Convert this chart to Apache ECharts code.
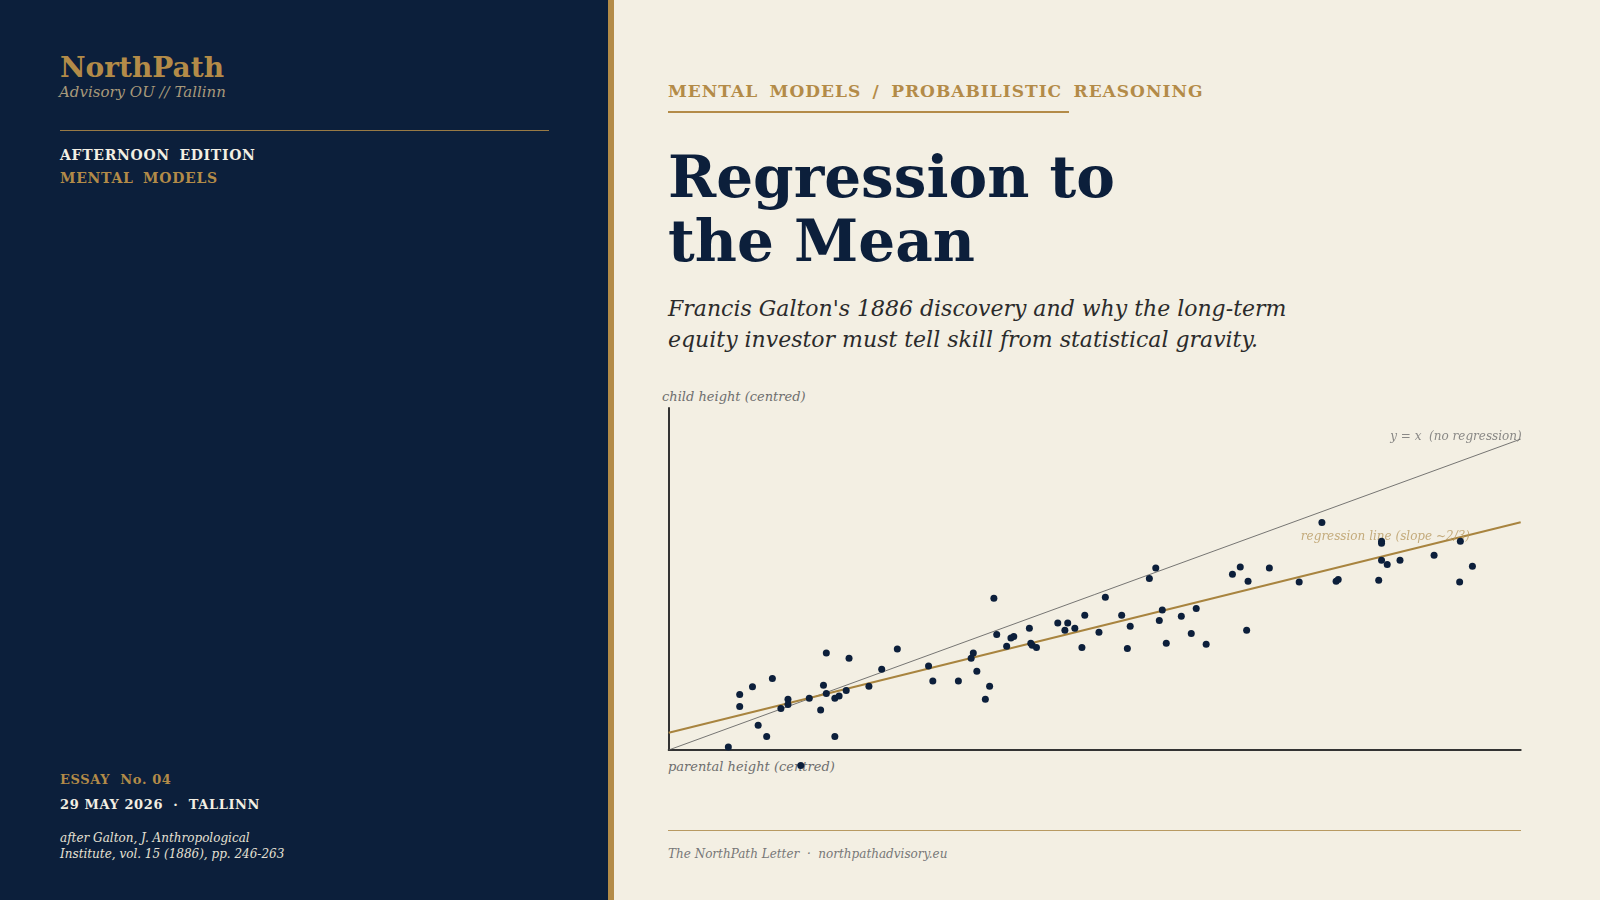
<!DOCTYPE html>
<html>
<head>
<meta charset="utf-8">
<script src="https://cdn.jsdelivr.net/npm/echarts@6/dist/echarts.min.js"></script>
<style>
  html, body { margin:0; padding:0; }
  body { width:1600px; height:900px; position:relative; overflow:hidden; background:#f3efe3; font-family:'DejaVu Serif', serif; }
  .abs { position:absolute; white-space:nowrap; line-height:1; }
  #left { position:absolute; left:0; top:0; width:608px; height:900px; background:#0c1f3b; border-right:6px solid #b38b48; }
  #chart { position:absolute; left:620px; top:370px; width:980px; height:430px; }
</style>
</head>
<body>
<div id="left"></div>
<div class="abs" style="left:60px;top:54px;font-size:28px;font-weight:bold;color:#b38b48;">NorthPath</div>
<div class="abs" style="left:59px;top:85px;font-size:15px;font-style:italic;color:#a8997a;">Advisory OU // Tallinn</div>
<div class="abs" style="left:60px;top:130px;width:489px;height:1px;background:#b38b48;opacity:0.85;"></div>
<div class="abs" style="left:60px;top:148px;font-size:14px;font-weight:bold;color:#f3efe3;letter-spacing:0.7px;word-spacing:4px;">AFTERNOON EDITION</div>
<div class="abs" style="left:60px;top:171px;font-size:14px;font-weight:bold;color:#b38b48;letter-spacing:0.7px;word-spacing:4px;">MENTAL MODELS</div>
<div class="abs" style="left:60px;top:773px;font-size:13px;font-weight:bold;color:#b38b48;letter-spacing:0.6px;">ESSAY&nbsp; No. 04</div>
<div class="abs" style="left:60px;top:798px;font-size:13px;font-weight:bold;color:#f3efe3;letter-spacing:0.6px;">29 MAY 2026 &nbsp;·&nbsp; TALLINN</div>
<div class="abs" style="left:60px;top:830px;font-size:12px;font-style:italic;color:#e6e1d4;line-height:16px;">after Galton, J. Anthropological<br>Institute, vol. 15 (1886), pp. 246-263</div>

<div class="abs" style="left:668px;top:83px;font-size:17px;font-weight:bold;color:#b38b48;letter-spacing:1px;word-spacing:4.5px;">MENTAL MODELS / PROBABILISTIC REASONING</div>
<div class="abs" style="left:668px;top:111px;width:401px;height:2px;background:#b38b48;"></div>
<div class="abs" style="left:668px;top:145px;font-size:58px;font-weight:bold;color:#0c1f3b;line-height:64px;">Regression to<br>the Mean</div>
<div class="abs" style="left:668px;top:293px;font-size:22px;font-style:italic;color:#2b2b2b;line-height:31px;">Francis Galton's 1886 discovery and why the long-term<br>equity investor must tell skill from statistical gravity.</div>

<div class="abs" style="left:662px;top:390px;font-size:13px;font-style:italic;color:#6e6e6e;">child height (centred)</div>
<div class="abs" style="left:668px;top:760px;font-size:13px;font-style:italic;color:#6e6e6e;">parental height (centred)</div>

<div class="abs" style="left:668px;top:830px;width:853px;height:1px;background:#b89a62;"></div>
<div class="abs" style="left:668px;top:848px;font-size:12px;font-style:italic;color:#777;">The NorthPath Letter &nbsp;·&nbsp; northpathadvisory.eu</div>

<div id="chart"></div>
<script>
// Parental (x) and child (y) heights, centred
const parentX = [-2.58,-2.50,-2.50,-2.41,-2.37,-2.31,-2.27,-2.21,-2.16,-2.16,-2.07,-2.01,-1.93,-1.91,-1.89,-1.89,-1.83,-1.83,-1.80,-1.75,
  -1.73,-1.59,-1.50,-1.39,-1.17,-1.14,-0.96,-0.87,-0.855,-0.83,-0.77,-0.74,-0.71,-0.69,-0.62,-0.59,-0.57,-0.46,-0.45,-0.44,
  -0.41,-0.26,-0.21,-0.19,-0.14,-0.09,-0.07,0.03,0.075,0.19,0.23,0.25,0.385,0.43,0.455,0.476,0.504,0.61,0.68,0.715,
  0.785,0.97,1.025,1.07,1.08,1.23,1.44,1.60,1.70,1.715,2.00,2.02,2.02,2.02,2.06,2.15,2.39,2.575,2.57,2.66];
const childY = [-2.94,-1.93,-2.16,-1.78,-2.52,-2.74,-1.62,-2.20,-2.02,-2.12,-3.30,-2.00,-2.23,-1.75,-1.13,-1.91,-2.74,-2.00,-1.96,-1.85,
  -1.23,-1.77,-1.44,-1.05,-1.38,-1.67,-1.67,-1.23,-1.13,-1.48,-2.02,-1.77,-0.07,-0.77,-1.00,-0.84,-0.81,-0.65,-0.94,-0.98,
  -1.02,-0.55,-0.69,-0.55,-0.65,-1.02,-0.40,-0.73,-0.05,-0.40,-1.04,-0.61,0.31,0.51,-0.50,-0.30,-0.94,-0.42,-0.75,-0.27,
  -0.96,0.39,0.53,-0.69,0.255,0.51,0.24,1.39,0.255,0.29,0.275,1.03,0.99,0.66,0.58,0.66,0.76,1.03,0.24,0.545];
const identityLine = [[-3, -3], [3, 3]];
const regressionLine = [[-3, -2.666], [3, 1.394]];
const xRange = [-3, 3];
const yRange = [-3, 3.6];
const labelIdentity = 'y = x  (no regression)';
const labelRegression = 'regression line (slope ~2/3)';

const points = parentX.map((x, i) => [x, childY[i]]);
const chart = echarts.init(document.getElementById('chart'), null, {renderer: 'canvas'});
const axisCommon = {
  type: 'value',
  axisLine: { show: true, onZero: false, lineStyle: { color: '#333', width: 2 } },
  axisTick: { show: false }, axisLabel: { show: false }, splitLine: { show: false }
};
chart.setOption({
  animation: false,
  grid: { left: 48.7, top: 38, width: 852, height: 342 },
  xAxis: Object.assign({ min: xRange[0], max: xRange[1] }, axisCommon),
  yAxis: Object.assign({ min: yRange[0], max: yRange[1] }, axisCommon),
  series: [
    { type: 'line', data: identityLine, symbol: 'none', silent: true, z: 1,
      lineStyle: { color: '#555', width: 0.8 } },
    { type: 'line', data: regressionLine, symbol: 'none', silent: true, z: 2,
      lineStyle: { color: '#a8843f', width: 2 } },
    { type: 'scatter', data: [[xRange[1], xRange[1]]], symbolSize: 0, z: 3, silent: true,
      label: { show: true, formatter: labelIdentity, position: [0, 0], align: 'right', verticalAlign: 'bottom',
        offset: [1, 4], fontFamily: 'DejaVu Serif', fontStyle: 'italic', fontSize: 12, color: '#6e6e6e' } },
    { type: 'scatter', data: [[2.643, 1.152]], symbolSize: 0, z: 3, silent: true,
      label: { show: true, formatter: labelRegression, position: [0, 0], align: 'right', verticalAlign: 'bottom',
        offset: [0, 8], fontFamily: 'DejaVu Serif', fontStyle: 'italic', fontSize: 12, color: '#b89a62' } },
    { type: 'scatter', data: points, symbolSize: 7, clip: false, z: 5,
      itemStyle: { color: '#0c1f3b', opacity: 1 } }
  ]
});
</script>
</body>
</html>
